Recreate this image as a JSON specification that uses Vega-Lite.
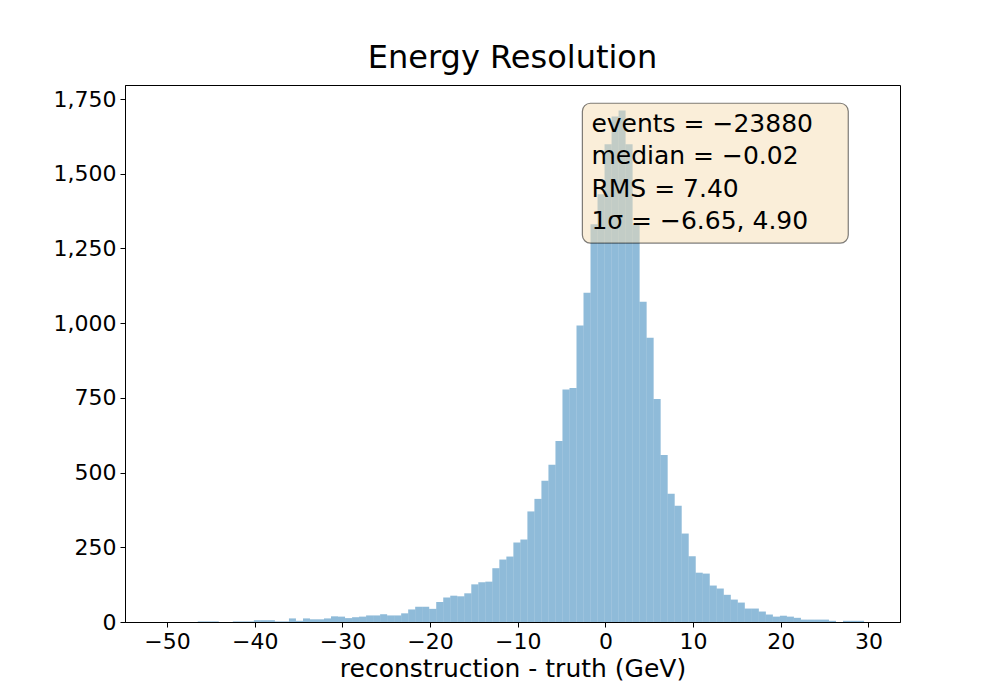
{
  "$schema": "https://vega.github.io/schema/vega-lite/v6.json",
  "width": 775, "height": 537,
  "autosize": "none",
  "padding": {"left": 125, "top": 85, "right": 100, "bottom": 78},
  "background": "white",
  "config": {
    "view": {"stroke": "black", "strokeWidth": 1},
    "font": "DejaVu Sans",
    "axis": {"labelFontSize": 22, "titleFontSize": 25, "labelColor": "black", "titleColor": "black", "domainColor": "black", "tickColor": "black", "grid": false, "titleFontWeight": "normal", "labelFont": "DejaVu Sans", "titleFont": "DejaVu Sans"}
  },
  "title": {"text": "Energy Resolution", "fontSize": 32, "fontWeight": "normal", "font": "DejaVu Sans", "offset": 10, "color": "black"},
  "layer": [
    {
      "data": {"values": [
        {"a":-46.5,"b":-45.7,"n":2},{"a":-45.7,"b":-44.9,"n":2},{"a":-44.9,"b":-44.1,"n":2},
        {"a":-42.5,"b":-41.7,"n":2},{"a":-41.7,"b":-40.9,"n":2},{"a":-40.9,"b":-40.1,"n":2},
        {"a":-40.1,"b":-39.3,"n":6},{"a":-39.3,"b":-38.5,"n":6},{"a":-38.5,"b":-37.7,"n":6},
        {"a":-37.7,"b":-36.9,"n":2},{"a":-36.9,"b":-36.1,"n":2},{"a":-36.1,"b":-35.3,"n":12},
        {"a":-35.3,"b":-34.5,"n":4},{"a":-34.5,"b":-33.7,"n":12},{"a":-33.7,"b":-32.9,"n":9},
        {"a":-32.9,"b":-32.1,"n":9},{"a":-32.1,"b":-31.3,"n":12},{"a":-31.3,"b":-30.5,"n":19},
        {"a":-30.5,"b":-29.7,"n":18},{"a":-29.7,"b":-28.9,"n":13},{"a":-28.9,"b":-28.1,"n":16},
        {"a":-28.1,"b":-27.3,"n":18},{"a":-27.3,"b":-26.5,"n":22},{"a":-26.5,"b":-25.7,"n":22},
        {"a":-25.7,"b":-24.9,"n":26},{"a":-24.9,"b":-24.1,"n":22},{"a":-24.1,"b":-23.3,"n":22},
        {"a":-23.3,"b":-22.5,"n":29},{"a":-22.5,"b":-21.7,"n":42},{"a":-21.7,"b":-20.9,"n":51},
        {"a":-20.9,"b":-20.1,"n":51},{"a":-20.1,"b":-19.3,"n":44},{"a":-19.3,"b":-18.5,"n":67},
        {"a":-18.5,"b":-17.7,"n":82},{"a":-17.7,"b":-16.9,"n":88},{"a":-16.9,"b":-16.1,"n":86},
        {"a":-16.1,"b":-15.3,"n":96},{"a":-15.3,"b":-14.5,"n":126},{"a":-14.5,"b":-13.7,"n":133},
        {"a":-13.7,"b":-12.9,"n":135},{"a":-12.9,"b":-12.1,"n":180},{"a":-12.1,"b":-11.3,"n":209},
        {"a":-11.3,"b":-10.5,"n":219},{"a":-10.5,"b":-9.7,"n":266},{"a":-9.7,"b":-8.9,"n":276},
        {"a":-8.9,"b":-8.1,"n":370},{"a":-8.1,"b":-7.3,"n":412},{"a":-7.3,"b":-6.5,"n":473},
        {"a":-6.5,"b":-5.7,"n":526},{"a":-5.7,"b":-4.9,"n":606},{"a":-4.9,"b":-4.1,"n":778},
        {"a":-4.1,"b":-3.3,"n":783},{"a":-3.3,"b":-2.5,"n":992},{"a":-2.5,"b":-1.7,"n":1102},
        {"a":-1.7,"b":-0.9,"n":1331},{"a":-0.9,"b":-0.1,"n":1431},{"a":-0.1,"b":0.7,"n":1599},
        {"a":0.7,"b":1.5,"n":1692},{"a":1.5,"b":2.3,"n":1712},{"a":2.3,"b":3.1,"n":1599},
        {"a":3.1,"b":3.9,"n":1330},{"a":3.9,"b":4.7,"n":1072},{"a":4.7,"b":5.5,"n":951},
        {"a":5.5,"b":6.3,"n":746},{"a":6.3,"b":7.1,"n":559},{"a":7.1,"b":7.9,"n":429},
        {"a":7.9,"b":8.7,"n":389},{"a":8.7,"b":9.5,"n":296},{"a":9.5,"b":10.3,"n":220},
        {"a":10.3,"b":11.1,"n":165},{"a":11.1,"b":11.9,"n":162},{"a":11.9,"b":12.7,"n":122},
        {"a":12.7,"b":13.5,"n":112},{"a":13.5,"b":14.3,"n":91},{"a":14.3,"b":15.1,"n":75},
        {"a":15.1,"b":15.9,"n":65},{"a":15.9,"b":16.7,"n":45},{"a":16.7,"b":17.5,"n":45},
        {"a":17.5,"b":18.3,"n":35},{"a":18.3,"b":19.1,"n":25},{"a":19.1,"b":19.9,"n":18},
        {"a":19.9,"b":20.7,"n":21},{"a":20.7,"b":21.5,"n":18},{"a":21.5,"b":22.3,"n":14},
        {"a":22.3,"b":23.1,"n":8},{"a":23.1,"b":23.9,"n":8},{"a":23.9,"b":24.7,"n":8},
        {"a":24.7,"b":25.5,"n":8},{"a":25.5,"b":26.3,"n":4},{"a":27.1,"b":27.9,"n":4},
        {"a":27.9,"b":28.7,"n":4},{"a":28.7,"b":29.5,"n":4}
      ]},
      "mark": {"type": "rect", "color": "#1f77b4", "opacity": 0.5, "strokeWidth": 0},
      "encoding": {
        "x": {"field": "a", "type": "quantitative", "scale": {"domain": [-54.8, 33.6], "nice": false, "zero": false},
              "axis": {"values": [-50, -40, -30, -20, -10, 0, 10, 20, 30], "title": "reconstruction - truth (GeV)", "labelExpr": "replace(datum.label, '-', '−')", "tickSize": 5, "labelPadding": 4, "titlePadding": 4}},
        "x2": {"field": "b"},
        "y": {"field": "n", "type": "quantitative", "scale": {"domain": [0, 1797], "nice": false},
              "axis": {"values": [0, 250, 500, 750, 1000, 1250, 1500, 1750], "title": null, "tickSize": 5, "labelPadding": 4}},
        "y2": {"datum": 0}
      }
    },
    {
      "data": {"values": [{"x0": -2.63, "x1": 27.7, "y0": 1268, "y1": 1736}]},
      "mark": {"type": "rect", "fill": "wheat", "fillOpacity": 0.5, "stroke": "black", "strokeOpacity": 0.5, "strokeWidth": 1.2, "cornerRadius": 8},
      "encoding": {
        "x": {"field": "x0", "type": "quantitative"},
        "x2": {"field": "x1"},
        "y": {"field": "y0", "type": "quantitative"},
        "y2": {"field": "y1"}
      }
    },
    {
      "data": {"values": [
        {"x": -1.6, "y": 1666, "t": "events = −23880"},
        {"x": -1.6, "y": 1559, "t": "median = −0.02"},
        {"x": -1.6, "y": 1448, "t": "RMS = 7.40"},
        {"x": -1.6, "y": 1341, "t": "1σ = −6.65, 4.90"}
      ]},
      "mark": {"type": "text", "align": "left", "baseline": "middle", "fontSize": 25, "font": "DejaVu Sans", "color": "black"},
      "encoding": {
        "x": {"field": "x", "type": "quantitative"},
        "y": {"field": "y", "type": "quantitative"},
        "text": {"field": "t"}
      }
    }
  ]
}
